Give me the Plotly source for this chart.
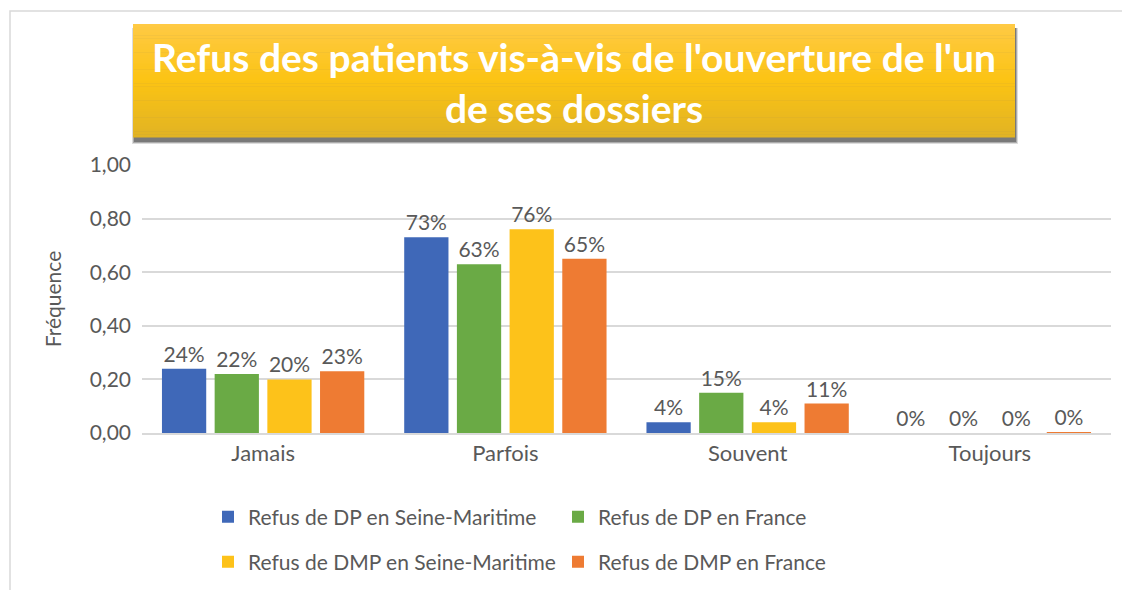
import plotly.graph_objects as go

categories = ["Jamais", "Parfois", "Souvent", "Toujours"]
series_names = [
    "Refus de DP en Seine-Maritime",
    "Refus de DP en France",
    "Refus de DMP en Seine-Maritime",
    "Refus de DMP en France",
]
dp_seine = [0.24, 0.73, 0.04, 0.0]
dp_france = [0.22, 0.63, 0.15, 0.0]
dmp_seine = [0.20, 0.76, 0.04, 0.0]
dmp_france = [0.23, 0.65, 0.11, 0.003]
y_ticks = [0, 0.2, 0.4, 0.6, 0.8, 1.0]
y_ticktext = ["0,00", "0,20", "0,40", "0,60", "0,80", "1,00"]

colors = ["#3F68B8", "#6AAA45", "#FDC21A", "#EE7B33"]
grey = "#595959"
font_family = "Lato, Open Sans, sans-serif"

# page is drawn with an 8px body offset, so work in screen pixels and convert
OFF = 8
PL, PR, PT, PB = 142, 1111, 165, 433  # plot area on screen


def px(x):
    return (x - PL) / (PR - PL)


def py(y):
    return (PB - y) / (PB - PT)


fig = go.Figure()
for name, vals, col in zip(series_names, [dp_seine, dp_france, dmp_seine, dmp_france], colors):
    fig.add_trace(go.Bar(
        x=categories, y=vals, name=name,
        marker=dict(color=col, line=dict(width=0)),
        text=[f"{round(v * 100):.0f}%" for v in vals],
        textposition="outside",
        textfont=dict(size=21, color=grey, family=font_family),
        cliponaxis=False,
        legend="legend" if name.startswith("Refus de DP") else "legend2",
    ))

# title box: soft drop shadow + vertical gradient built from thin strips
x0, x1, y0, y1 = 133, 1015, 24, 137
for k, alpha in enumerate([0.18, 0.3, 0.45]):
    fig.add_shape(type="rect", xref="paper", yref="paper",
                  x0=px(x0 + 1 - (2 - k)), x1=px(x1 + 3 - k), y0=py(y1 + 7 - k), y1=py(y0 + 4),
                  fillcolor="rgba(60,60,60,%.2f)" % alpha, line_width=0, layer="above")
top_c, mid_c, bot_c = (255, 202, 68), (252, 196, 20), (226, 180, 36)
n = 40
for i in range(n):
    t = i / (n - 1)
    if t < 0.5:
        a, b, u = top_c, mid_c, t / 0.5
    else:
        a, b, u = mid_c, bot_c, (t - 0.5) / 0.5
    c = tuple(int(a[k] + (b[k] - a[k]) * u) for k in range(3))
    ya = y0 + (y1 - y0) * i / n
    yb = y0 + (y1 - y0) * (i + 1) / n
    fig.add_shape(type="rect", xref="paper", yref="paper",
                  x0=px(x0), x1=px(x1), y0=py(yb + 0.5), y1=py(ya),
                  fillcolor="rgb(%d,%d,%d)" % c, line_width=0, layer="above")

fig.add_annotation(
    xref="paper", yref="paper", x=px(574), y=py(82),
    text="<b>Refus des patients vis-à-vis de l'ouverture de l'un<br>de ses dossiers</b>",
    showarrow=False, xanchor="center", yanchor="middle", align="center",
    font=dict(size=39, color="white", family=font_family),
)

# outer chart frame
fig.add_shape(type="rect", xref="paper", yref="paper",
              x0=px(10), x1=px(1140), y0=py(610), y1=py(11),
              line=dict(color="#D9D9D9", width=1.5), fillcolor="rgba(0,0,0,0)", layer="below")

leg_font = dict(size=21, color=grey, family=font_family)
fig.update_layout(
    width=1130, height=590,
    margin=dict(l=PL - OFF, r=1130 - (PR - OFF), t=PT - OFF, b=590 - (PB - OFF)),
    paper_bgcolor="white", plot_bgcolor="white",
    barmode="group", bargap=0.13, bargroupgap=0.16,
    font=dict(family=font_family, color=grey),
    showlegend=True,
    legend=dict(orientation="h", x=px(208), y=py(517), xanchor="left", yanchor="middle",
                entrywidth=305, font=leg_font, itemwidth=30, bgcolor="rgba(0,0,0,0)"),
    legend2=dict(orientation="h", x=px(208), y=py(562), xanchor="left", yanchor="middle",
                 entrywidth=305, font=leg_font, itemwidth=30, bgcolor="rgba(0,0,0,0)"),
    xaxis=dict(showline=True, linecolor="#D9D9D9", linewidth=1.5, ticks="",
               tickfont=dict(size=22, color=grey), fixedrange=True),
    yaxis=dict(range=[0, 1.0], tickvals=y_ticks, ticktext=y_ticktext,
               showgrid=True, gridcolor="#D9D9D9", gridwidth=1.5, zeroline=False,
               tickfont=dict(size=21, color=grey), ticklabelstandoff=10,
               title=dict(text="Fréquence", font=dict(size=21, color=grey), standoff=22)),
)

fig.write_html("out.html")
